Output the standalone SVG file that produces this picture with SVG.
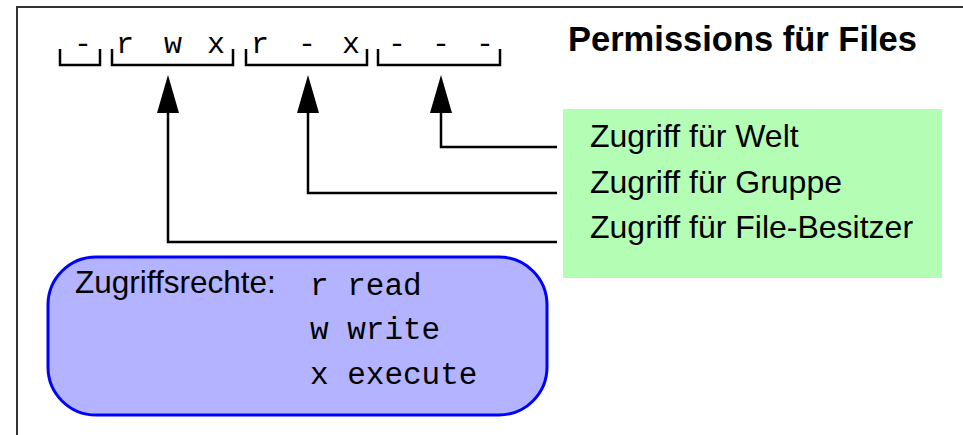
<svg xmlns="http://www.w3.org/2000/svg" width="963" height="435" viewBox="0 0 963 435">
  <style>
    .frame { fill: none; stroke: #333; stroke-width: 2; }
    .brk { fill: none; stroke: #000; stroke-width: 2.5; }
    .mono { font-family: "Liberation Mono", "Courier New", monospace; fill: #000; }
    .sans { font-family: "Liberation Sans", Arial, Helvetica, sans-serif; fill: #000; }
    .conn { fill: none; stroke: #000; stroke-width: 2.5; }
    .head { fill: #000; }
  </style>
  <rect width="963" height="435" fill="#fff"/>
  <path class="frame" d="M17,435 V7 H963"/>

  <!-- permission string: type flag, owner, group, world -->
  <g id="permstring">
    <path class="brk" d="M60,49 V65 H100 V49"/>
    <path class="brk" d="M112,49 V65 H233 V49"/>
    <path class="brk" d="M246,49 V65 H367 V49"/>
    <path class="brk" d="M378,49 V65 H500 V49"/>
    <g class="mono" font-size="30" text-anchor="middle">
      <text x="83" y="53">-</text>
      <text x="125" y="53">r</text>
      <text x="173" y="53">w</text>
      <text x="216" y="53">x</text>
      <text x="260" y="53">r</text>
      <text x="307" y="53">-</text>
      <text x="351" y="53">x</text>
      <text x="397" y="53">-</text>
      <text x="441" y="53">-</text>
      <text x="485" y="53">-</text>
    </g>
  </g>

  <g id="title">
    <text class="sans" x="568" y="51" font-size="34.5" font-weight="bold">Permissions für Files</text>
  </g>

  <g id="access">
    <rect x="563" y="109" width="379" height="169" fill="#b4fdb4"/>
    <g class="sans" font-size="32">
      <text x="590" y="147">Zugriff für Welt</text>
      <text x="590" y="193">Zugriff für Gruppe</text>
      <text x="590" y="238">Zugriff für File-Besitzer</text>
    </g>
  </g>

  <g id="rights">
    <rect x="48" y="257" width="499" height="158" rx="48" ry="48" fill="#b3b3ff" stroke="#0000ff" stroke-width="3"/>
    <text class="sans" x="75" y="293" font-size="31.5">Zugriffsrechte:</text>
    <g class="mono" font-size="31">
      <text x="310" y="295">r read</text>
      <text x="310" y="339">w write</text>
      <text x="310" y="384">x execute</text>
    </g>
  </g>

  <g id="connectors">
    <path class="conn" d="M557,242 H168 V110"/>
    <path class="conn" d="M557,193 H308 V110"/>
    <path class="conn" d="M557,147 H441 V110"/>
    <path class="head" d="M168,75 L179,113 L157,113 Z"/>
    <path class="head" d="M308,75 L319,113 L297,113 Z"/>
    <path class="head" d="M441,75 L452,113 L430,113 Z"/>
  </g>
</svg>
